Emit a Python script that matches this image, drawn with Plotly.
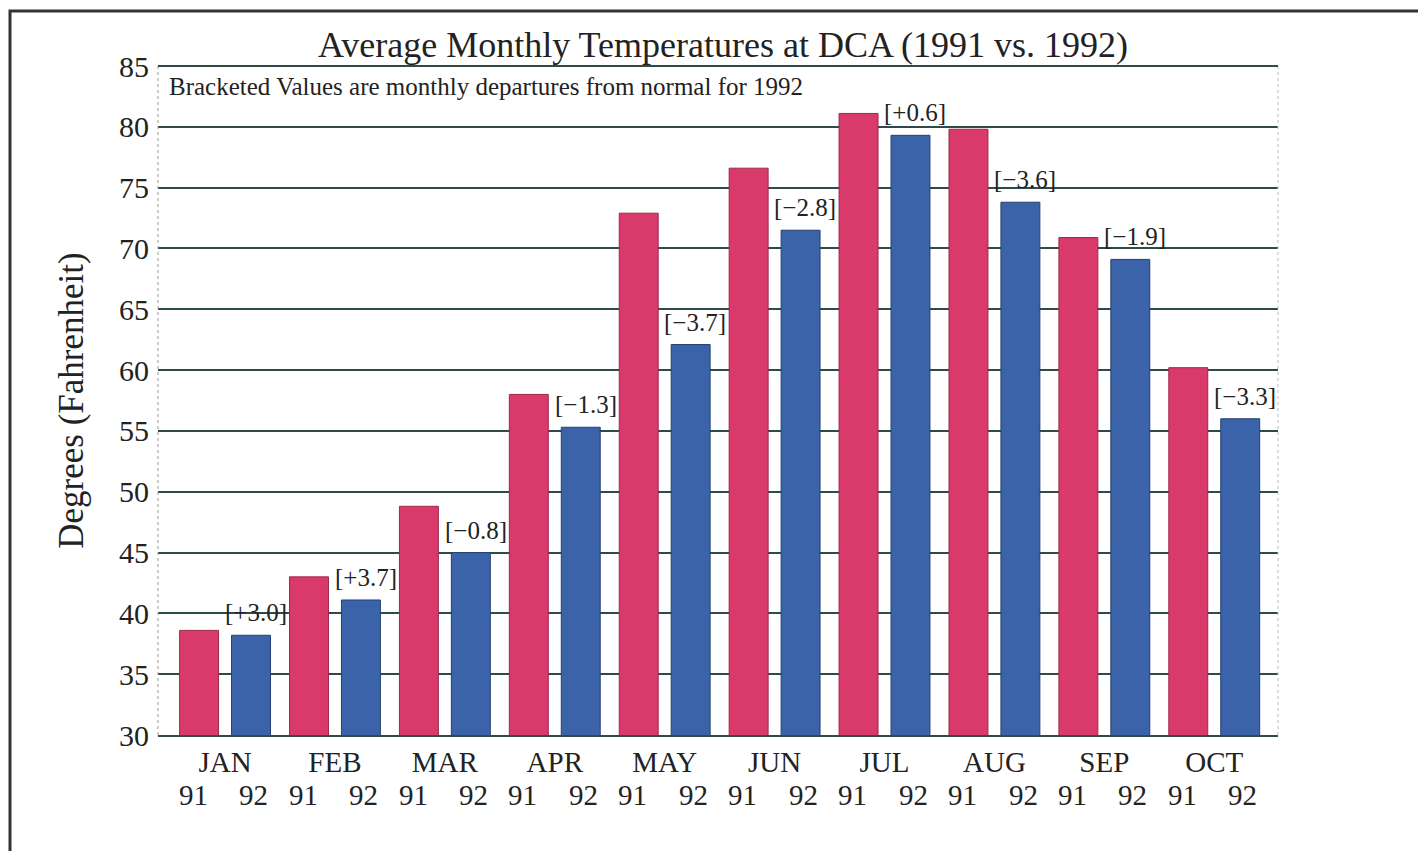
import plotly.graph_objects as go

months = ["JAN", "FEB", "MAR", "APR", "MAY", "JUN", "JUL", "AUG", "SEP", "OCT"]
temps_1991 = [38.6, 43.0, 48.8, 58.0, 72.9, 76.6, 81.1, 79.8, 70.9, 60.2]
temps_1992 = [38.2, 41.1, 45.0, 55.3, 62.1, 71.5, 79.3, 73.8, 69.1, 56.0]
departures = ["[+3.0]", "[+3.7]", "[\u22120.8]", "[\u22121.3]", "[\u22123.7]",
              "[\u22122.8]", "[+0.6]", "[\u22123.6]", "[\u22121.9]", "[\u22123.3]"]
year_labels = ["91", "92"]

PINK = "#D93A6B"
BLUE = "#3A63A9"
GRID = "#2E4A4A"
FONT = "Liberation Serif"

xs = list(range(len(months)))

fig = go.Figure()
fig.add_trace(go.Bar(x=xs, y=temps_1991, name="1991", marker=dict(color=PINK, line=dict(color="#9a2a4a", width=1))))
fig.add_trace(go.Bar(x=xs, y=temps_1992, name="1992", marker=dict(color=BLUE, line=dict(color="#26406e", width=1))))

annotations = []
for i, (v, t) in enumerate(zip(temps_1992, departures)):
    annotations.append(dict(x=i + 0.28, y=v, xref="x", yref="y", text=t, showarrow=False,
                            yanchor="bottom", yshift=7, font=dict(family=FONT, size=25, color="#222")))
for i in xs:
    annotations.append(dict(x=i - 0.29, y=-0.089, xref="x", yref="paper", text=year_labels[0], showarrow=False,
                            yanchor="middle", font=dict(family=FONT, size=29, color="#222")))
    annotations.append(dict(x=i + 0.26, y=-0.089, xref="x", yref="paper", text=year_labels[1], showarrow=False,
                            yanchor="middle", font=dict(family=FONT, size=29, color="#222")))
annotations.append(dict(x=0.008, y=0.97, xref="paper", yref="paper", xanchor="left", yanchor="middle",
                        text="Bracketed Values are monthly departures from normal for 1992", showarrow=False,
                        font=dict(family=FONT, size=25, color="#222")))
annotations.append(dict(x=(723 - 158) / 1120, y=1 + (66 - 45) / 669, xref="paper", yref="paper",
                        text="Average Monthly Temperatures at DCA (1991 vs. 1992)", showarrow=False,
                        yanchor="middle", font=dict(family=FONT, size=36, color="#222")))

shapes = [
    dict(type="rect", xref="paper", yref="paper",
         x0=(10 - 158) / 1120, x1=(1440 - 158) / 1120,
         y0=(735 - 860) / 669, y1=(735 - 11) / 669,
         line=dict(color="#333", width=3), layer="below"),
    dict(type="line", xref="paper", yref="paper", x0=0, x1=0, y0=0, y1=1,
         line=dict(color="#999", width=1, dash="dot")),
    dict(type="line", xref="paper", yref="paper", x0=1, x1=1, y0=0, y1=1,
         line=dict(color="#bbb", width=1, dash="dot")),
    dict(type="line", xref="paper", yref="paper", x0=0, x1=1, y0=1, y1=1,
         line=dict(color=GRID, width=2)),
]

fig.update_layout(
    width=1426, height=851,
    margin=dict(l=150, r=156, t=58, b=124),
    paper_bgcolor="white", plot_bgcolor="white",
    barmode="group", bargap=0.055, bargroupgap=0.25,
    showlegend=False,
    annotations=annotations, shapes=shapes,
    font=dict(family=FONT, color="#222"),
    xaxis=dict(range=[-0.61, 9.58], tickvals=xs, ticktext=months, showgrid=False,
               tickfont=dict(family=FONT, size=29), showline=True, linecolor=GRID, linewidth=2,
               ticks="", ticklabelstandoff=0, zeroline=False),
    yaxis=dict(range=[30, 85], dtick=5, tick0=30, showgrid=True, gridcolor=GRID, gridwidth=1.5,
               tickfont=dict(family=FONT, size=30), ticks="", ticklabelstandoff=8,
               showline=False, zeroline=False,
               title=dict(text="Degrees (Fahrenheit)", font=dict(family=FONT, size=35), standoff=24)),
)

fig.write_html("out.html")
